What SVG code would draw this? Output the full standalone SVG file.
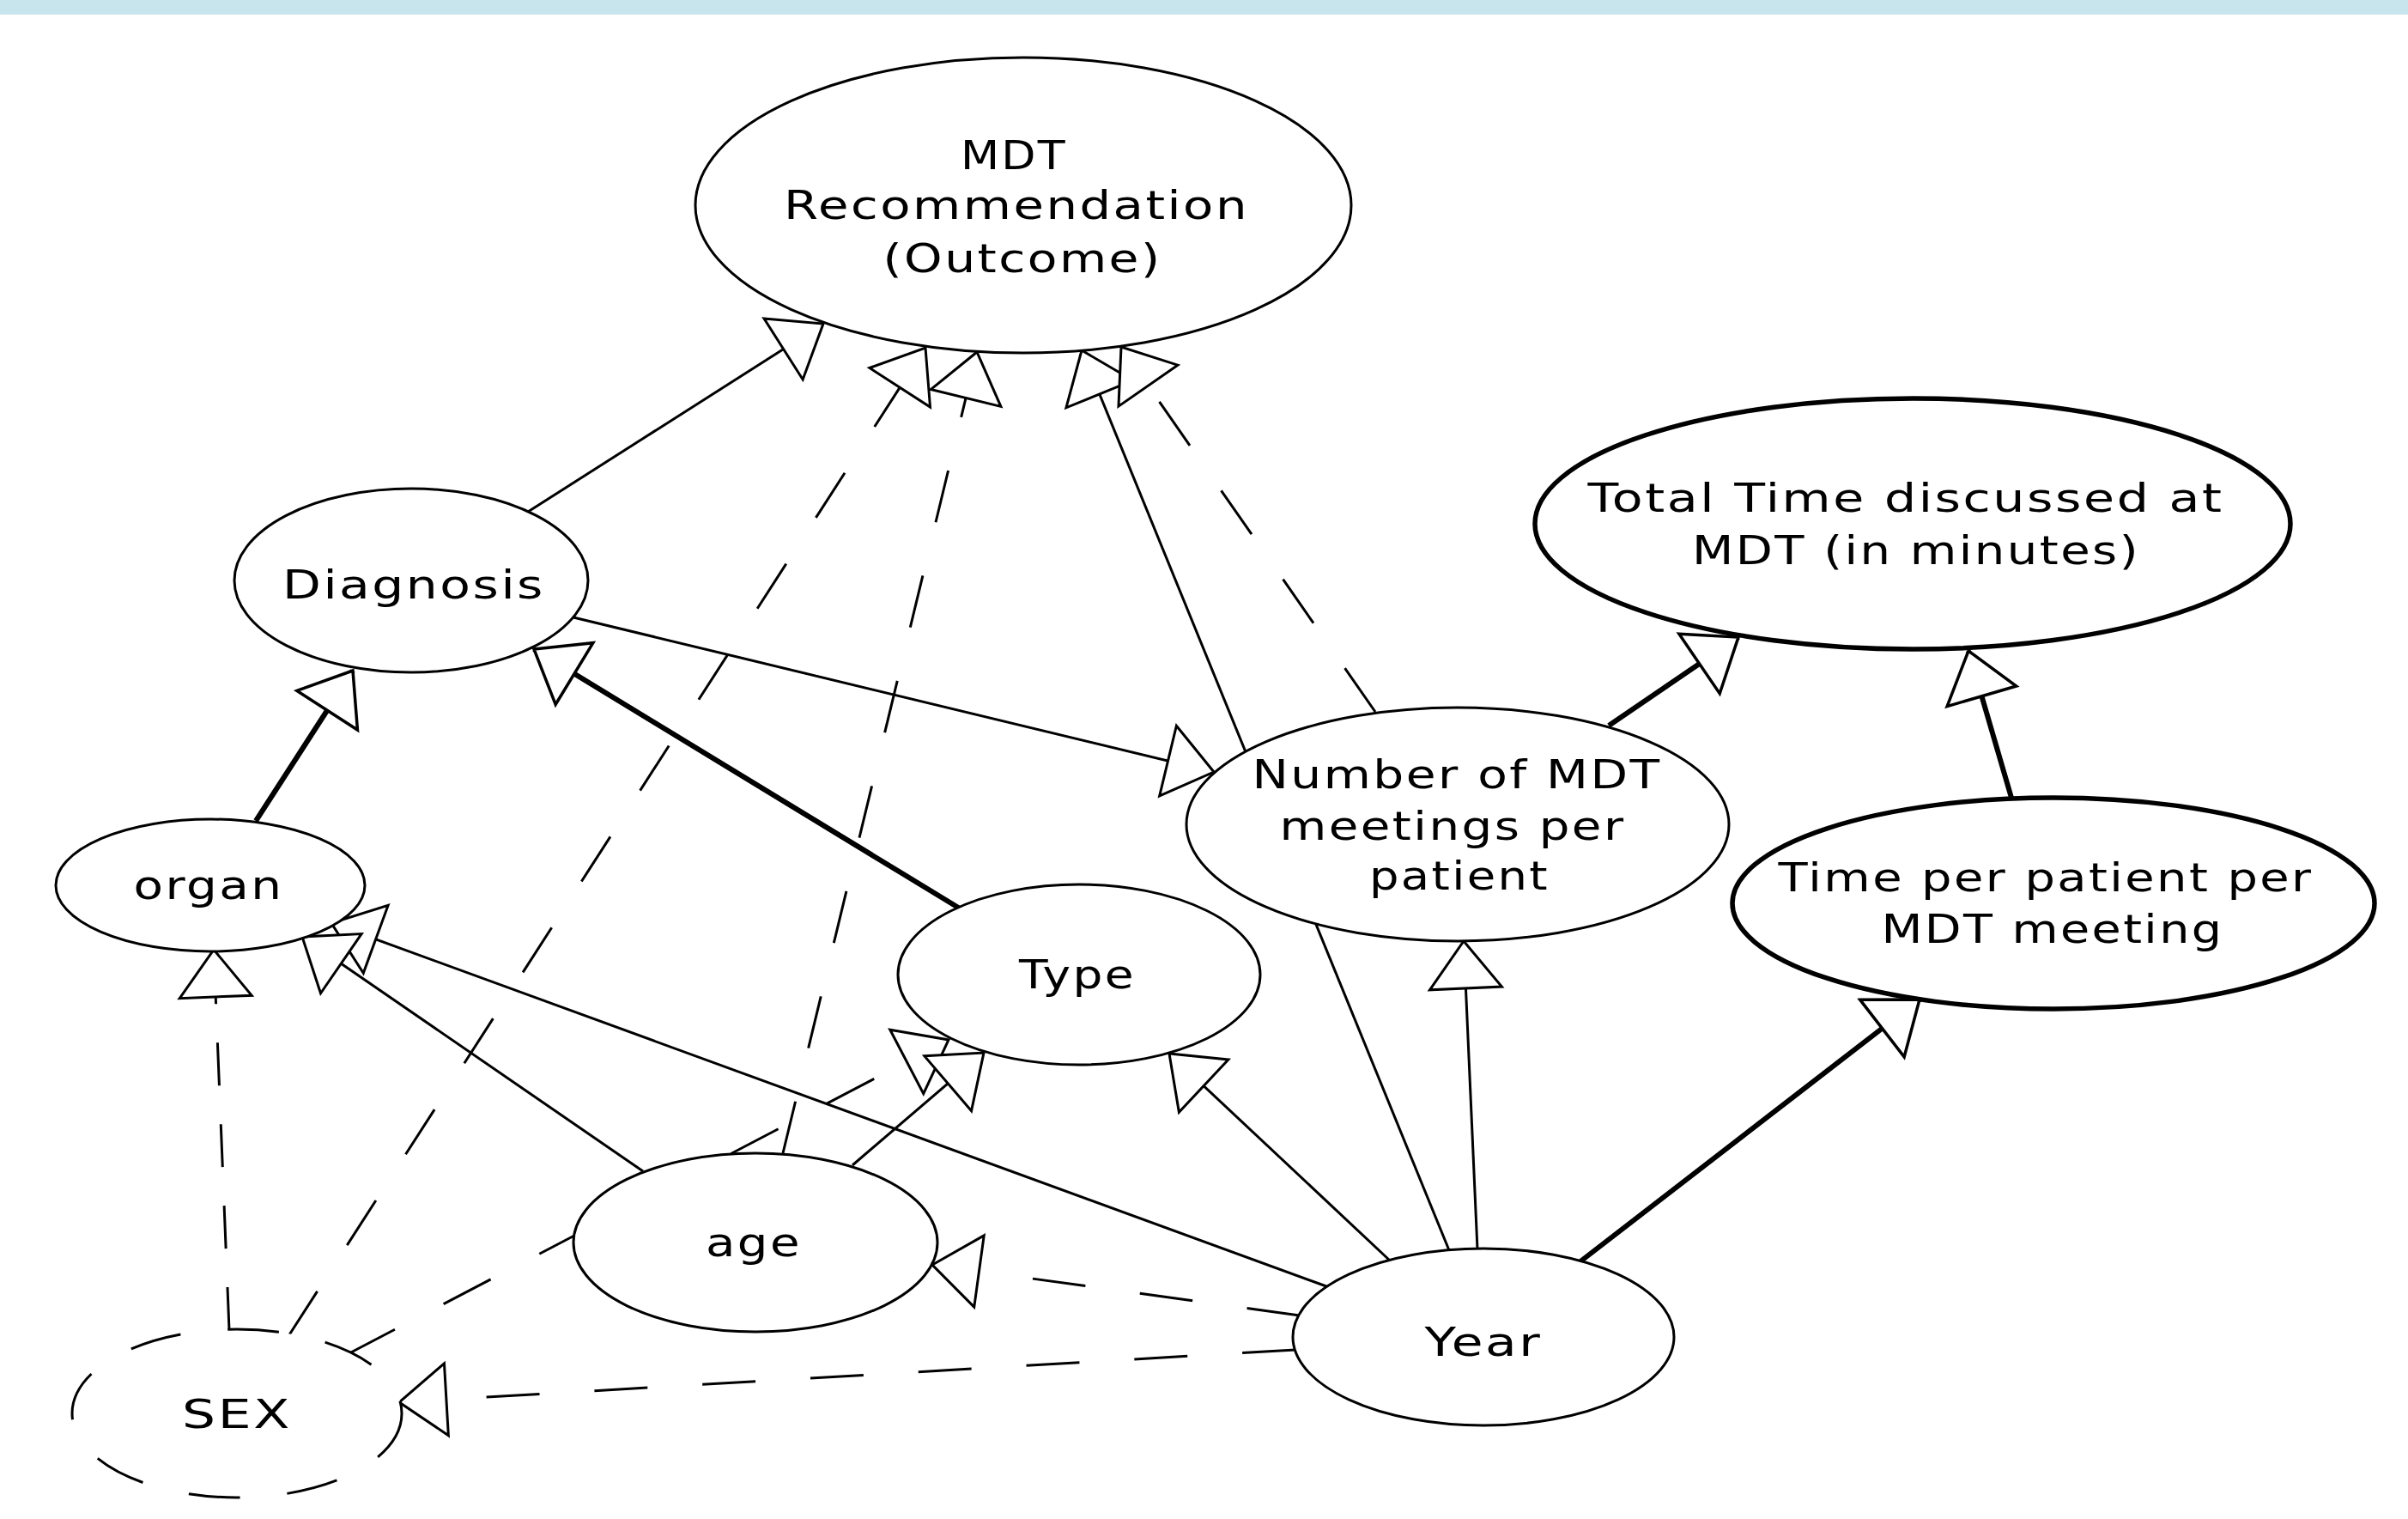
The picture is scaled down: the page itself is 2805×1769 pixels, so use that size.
<svg xmlns="http://www.w3.org/2000/svg" width="2805" height="1769" viewBox="0 0 2805 1769">
<style>
.bg{fill:#ffffff}
.band{fill:#c8e5ed}
.node{fill:#ffffff;stroke:#000;stroke-width:3}
.bold{stroke-width:5.5}
.dnode{stroke-dasharray:60 55}
.lbl{font-family:"DejaVu Sans","Liberation Sans",sans-serif;font-size:46px;letter-spacing:2px;fill:#000;text-anchor:middle}
.c{fill:none;stroke:#000;stroke-width:3;marker-end:url(#tri)}
.ct{fill:none;stroke:#000;stroke-width:6;marker-end:url(#trib)}
.d{stroke-dasharray:62 64}
</style>
<defs>
<marker id="tri" markerUnits="userSpaceOnUse" markerWidth="66" markerHeight="96" viewBox="-4 -48 66 96" refX="58" refY="0" orient="auto">
<path d="M3,-42 L58,0 L3,42 Z" fill="#fff" stroke="#000" stroke-width="3" stroke-dasharray="none"/>
</marker>
<marker id="trib" markerUnits="userSpaceOnUse" markerWidth="66" markerHeight="96" viewBox="-4 -48 66 96" refX="58" refY="0" orient="auto">
<path d="M3,-42 L58,0 L3,42 Z" fill="#fff" stroke="#000" stroke-width="3.5" stroke-dasharray="none"/>
</marker>
</defs>
<rect class="bg" x="0" y="0" width="2805" height="1769"/>
<rect class="band" x="0" y="0" width="2805" height="17"/>

<g id="connectors">
<line class="c" x1="615" y1="596" x2="959" y2="377"/>
<line class="c d" x1="336" y1="1556" x2="1078" y2="405"/>
<line class="c d" x1="912" y1="1343" x2="1138" y2="410"/>
<line class="c" x1="1688" y1="1456" x2="1260" y2="408"/>
<line class="c d" x1="1602" y1="829" x2="1306" y2="404"/>
<line class="ct" x1="298" y1="956" x2="411" y2="781"/>
<line class="ct" x1="1118" y1="1058" x2="622" y2="756"/>
<line class="c" x1="668" y1="719" x2="1414" y2="899"/>
<line class="c" x1="1545" y1="1498" x2="386" y2="1075"/>
<line class="c" x1="749" y1="1364" x2="352" y2="1091"/>
<line class="c d" style="stroke-dasharray:50 45" x1="267" y1="1549" x2="249" y2="1106"/>
<line class="c d" x1="405" y1="1577" x2="1105" y2="1211"/>
<line class="c" x1="993" y1="1357" x2="1146" y2="1226"/>
<line class="c" x1="1619" y1="1468" x2="1362" y2="1227"/>
<line class="c" x1="1721" y1="1455" x2="1705" y2="1096"/>
<line class="ct" x1="1841" y1="1469" x2="2236" y2="1164"/>
<line class="c d" x1="1514" y1="1532" x2="1086" y2="1473"/>
<line class="c d" x1="1509" y1="1572" x2="465" y2="1633"/>
<line class="ct" x1="1874" y1="845" x2="2025" y2="742"/>
<line class="ct" x1="2343" y1="929" x2="2293" y2="758"/>
</g>

<g id="node-mdt-recommendation">
<ellipse class="node" cx="1192" cy="239" rx="382" ry="172"/>
<text class="lbl" x="1181" y="197" textLength="124" lengthAdjust="spacingAndGlyphs">MDT</text>
<text class="lbl" x="1184" y="255" textLength="542" lengthAdjust="spacingAndGlyphs">Recommendation</text>
<text class="lbl" x="1191" y="317" textLength="325" lengthAdjust="spacingAndGlyphs">(Outcome)</text>
</g>
<g id="node-total-time">
<ellipse class="node bold" cx="2228" cy="610" rx="440" ry="146"/>
<text class="lbl" x="2220" y="596" textLength="741" lengthAdjust="spacingAndGlyphs">Total Time discussed at</text>
<text class="lbl" x="2232" y="657" textLength="522" lengthAdjust="spacingAndGlyphs">MDT (in minutes)</text>
</g>
<g id="node-diagnosis">
<ellipse class="node" cx="479" cy="676" rx="206" ry="107"/>
<text class="lbl" x="482" y="697" textLength="306" lengthAdjust="spacingAndGlyphs">Diagnosis</text>
</g>
<g id="node-organ">
<ellipse class="node" cx="245" cy="1031" rx="180" ry="77"/>
<text class="lbl" x="243" y="1047" textLength="175" lengthAdjust="spacingAndGlyphs">organ</text>
</g>
<g id="node-type">
<ellipse class="node" cx="1257" cy="1135" rx="211" ry="105"/>
<text class="lbl" x="1255" y="1151" textLength="136" lengthAdjust="spacingAndGlyphs">Type</text>
</g>
<g id="node-number-meetings">
<ellipse class="node" cx="1698" cy="960" rx="316" ry="136"/>
<text class="lbl" x="1697" y="918" textLength="477" lengthAdjust="spacingAndGlyphs">Number of MDT</text>
<text class="lbl" x="1692" y="978" textLength="403" lengthAdjust="spacingAndGlyphs">meetings per</text>
<text class="lbl" x="1700" y="1036" textLength="210" lengthAdjust="spacingAndGlyphs">patient</text>
</g>
<g id="node-time-per-patient">
<ellipse class="node bold" cx="2392" cy="1052" rx="374" ry="123"/>
<text class="lbl" x="2383" y="1038" textLength="623" lengthAdjust="spacingAndGlyphs">Time per patient per</text>
<text class="lbl" x="2391" y="1098" textLength="399" lengthAdjust="spacingAndGlyphs">MDT meeting</text>
</g>
<g id="node-age">
<ellipse class="node" cx="880" cy="1447" rx="212" ry="104"/>
<text class="lbl" x="878" y="1463" textLength="112" lengthAdjust="spacingAndGlyphs">age</text>
</g>
<g id="node-year">
<ellipse class="node" cx="1728" cy="1557" rx="222" ry="103"/>
<text class="lbl" x="1728" y="1579" textLength="137" lengthAdjust="spacingAndGlyphs">Year</text>
</g>
<g id="node-sex">
<ellipse class="node dnode" cx="276" cy="1646" rx="192" ry="98"/>
<text class="lbl" x="276" y="1663" textLength="128" lengthAdjust="spacingAndGlyphs">SEX</text>
</g>
</svg>
